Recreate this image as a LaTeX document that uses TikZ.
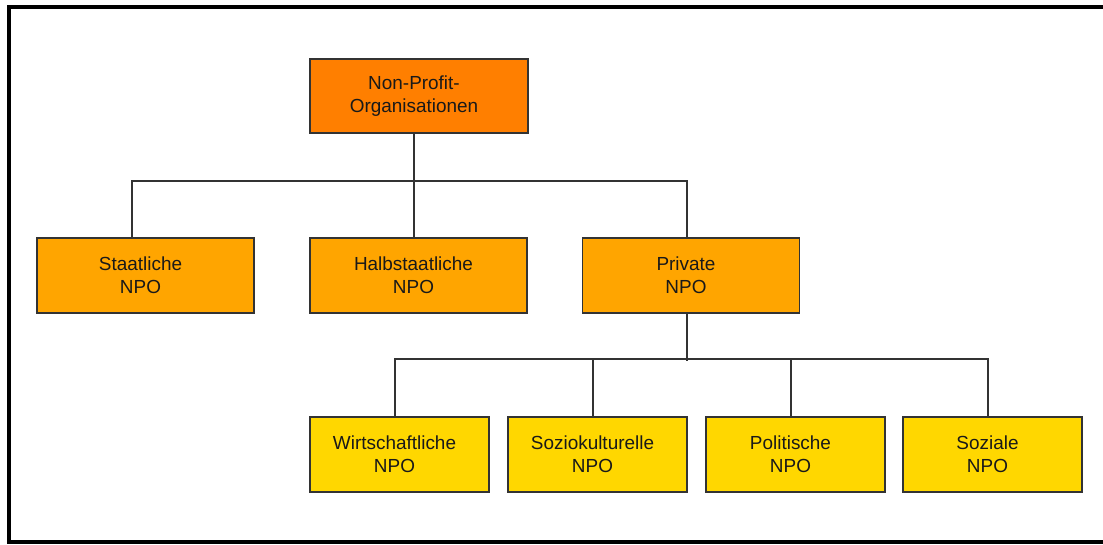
\documentclass[tikz,border=0pt]{standalone}
\usepackage{fontspec}
\setmainfont{Liberation Sans}
\usetikzlibrary{calc}
\definecolor{npotop}{HTML}{FF7F00}
\definecolor{npomid}{HTML}{FFA500}
\definecolor{npolow}{HTML}{FFD700}
\definecolor{edgegray}{HTML}{333333}

\begin{document}
\begin{tikzpicture}[x=0.75pt,y=-0.75pt,
  box/.style={draw=edgegray, line width=1.1pt, inner sep=0pt, minimum height=56.25pt},
  widebox/.style={box, minimum width=163pt},
  narrowbox/.style={box, minimum width=134.25pt, fill=npolow},
  lbl/.style={xshift=-3.75pt, align=center, text=black!90,
    font=\fontsize{14.2pt}{17.5pt}\selectfont},
  conn/.style={draw=edgegray, line width=1.3pt}
]
\useasboundingbox (0,0) rectangle (1103,544);

% outer frame (open on the right)
\draw[line width=3.2pt] (1104,7) -- (9,7) -- (9,542) -- (1104,542);

% root
\node[widebox, fill=npotop, minimum width=163.5pt, minimum height=55.5pt,
      label={[lbl]center:Non-Profit-\\Organisationen}] (npo) at (419,96) {};

% second level
\node[widebox, fill=npomid, label={[lbl]center:Staatliche\\NPO}] (sta) at (145.5,275.5) {};
\node[widebox, fill=npomid, label={[lbl]center:Halbstaatliche\\NPO}] (halb) at (418.5,275.5) {};
\node[widebox, fill=npomid, label={[lbl]center:Private\\NPO}] (priv) at (691,275.5) {};

% third level
\node[narrowbox, label={[lbl]center:Wirtschaftliche\\NPO}] (wirt) at (399.5,454.5) {};
\node[narrowbox, label={[lbl]center:Soziokulturelle\\NPO}] (sozk) at (597.5,454.5) {};
\node[narrowbox, label={[lbl]center:Politische\\NPO}] (pol) at (795.5,454.5) {};
\node[narrowbox, label={[lbl]center:Soziale\\NPO}] (soz) at (992.5,454.5) {};

% connectors root -> second level
\draw[conn] ($(npo.south)+(-5,0)$) -- ++(0,49);
\draw[conn] ($(sta.north)+(-13.5,0)$) -- ++(0,-56) -| ($(priv.north)+(-4,0)$);
\draw[conn] ($(halb.north)+(-4.5,0)$) -- ++(0,-56);

% connectors private -> third level
\draw[conn] ($(priv.south)+(-4,0)$) -- ++(0,47);
\draw[conn] ($(wirt.north)+(-4.5,0)$) -- ++(0,-57) -| ($(soz.north)+(-4.5,0)$);
\draw[conn] ($(sozk.north)+(-4.5,0)$) -- ++(0,-57);
\draw[conn] ($(pol.north)+(-4.5,0)$) -- ++(0,-57);
\end{tikzpicture}
\end{document}
